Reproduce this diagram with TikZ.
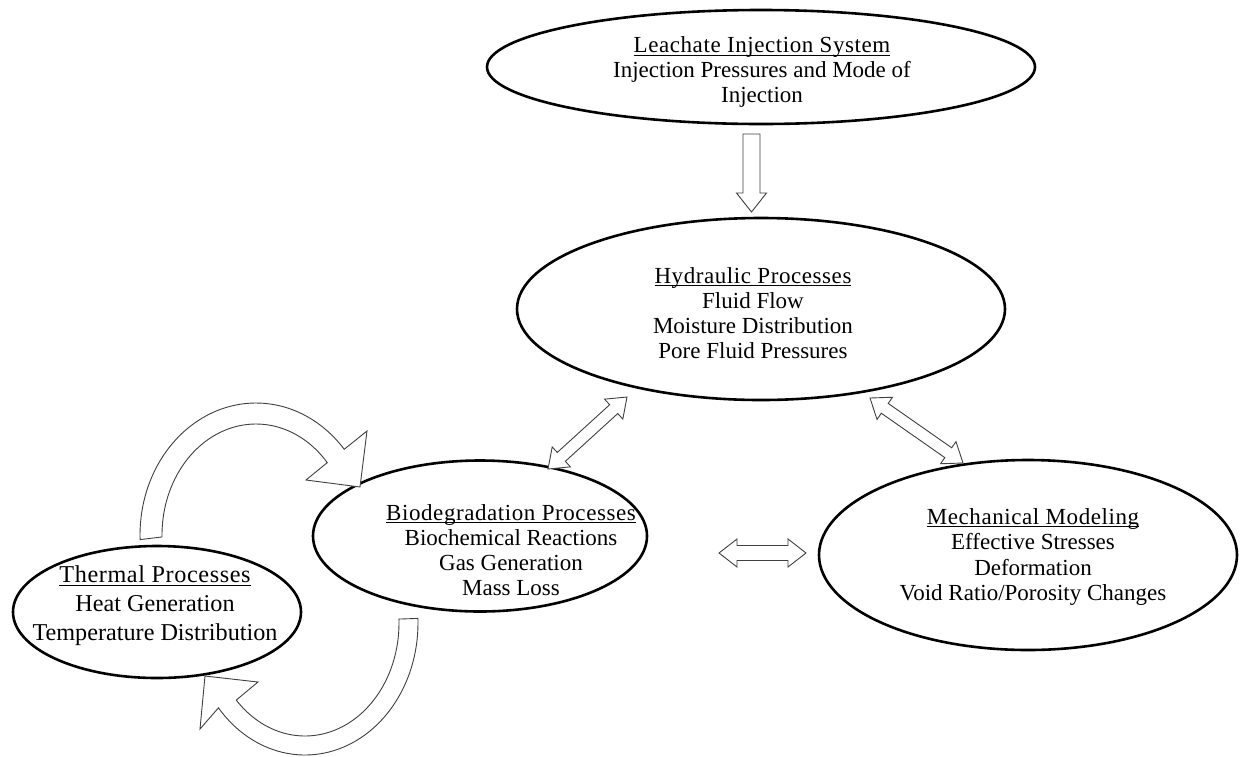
\documentclass[tikz,border=0pt]{standalone}
\usepackage{fontspec}
\setmainfont{Liberation Serif}
\newfontfamily\titlefont[LetterSpace=2.5]{Liberation Serif}
\usetikzlibrary{calc,shapes.geometric}
\newcommand\ulw[1]{\setbox0\hbox{\titlefont #1}\rlap{\rule[-3pt]{\wd0}{1pt}}\box0}
\newcommand\sglarrow[5]{%
  \coordinate (sa-P) at ($(#2)!#5!(#1)$);
  \draw[blk] ($(#1)!#3!90:(#2)$) -- ($(sa-P)!#3!-90:(#1)$) -- ($(sa-P)!#4!-90:(#1)$) -- (#2)
    -- ($(sa-P)!#4!90:(#1)$) -- ($(sa-P)!#3!90:(#1)$) -- ($(#1)!#3!-90:(#2)$) -- cycle;}
\newcommand\dblarrow[5]{%
  \coordinate (da-P) at ($(#1)!#5!(#2)$);
  \coordinate (da-Q) at ($(#2)!#5!(#1)$);
  \draw[blk] (#1) -- ($(da-P)!#4!90:(#2)$) -- ($(da-P)!#3!90:(#2)$) -- ($(da-Q)!#3!-90:(#1)$)
    -- ($(da-Q)!#4!-90:(#1)$) -- (#2) -- ($(da-Q)!#4!90:(#1)$) -- ($(da-Q)!#3!90:(#1)$)
    -- ($(da-P)!#3!-90:(#2)$) -- ($(da-P)!#4!-90:(#2)$) -- cycle;}
\begin{document}
\begin{tikzpicture}[x=1pt,y=-1pt,
  ell/.style={draw, line width=2.6pt, ellipse, inner sep=0pt},
  txt/.style={align=center, font=\fontsize{23}{25}\selectfont, inner sep=0pt},
  blk/.style={draw=black!75, line width=0.9pt, fill=white, line join=miter}]
\fill[white] (0,0) rectangle (1241,756);
\useasboundingbox (0,0) rectangle (1241,756);
% ellipses
\node[ell, minimum width=548pt, minimum height=114pt] (leach) at (761,67) {};
\node[ell, minimum width=488pt, minimum height=182pt] (hyd) at (761,309) {};
\node[ell, minimum width=334pt, minimum height=151pt] (bio) at (480,536) {};
\node[ell, minimum width=418pt, minimum height=190pt] (mech) at (1028,555) {};
\node[ell, minimum width=288pt, minimum height=132pt] (therm) at (157,612) {};
% texts
\node[txt] (leach-t) at (762,72) {\ulw{Leachate Injection System}\\Injection Pressures and Mode of\\Injection};
\node[txt] (hyd-t) at (753,313) {\ulw{Hydraulic Processes}\\Fluid Flow\\Moisture Distribution\\Pore Fluid Pressures};
\node[txt] (bio-t) at (511,550) {\ulw{Biodegradation Processes}\\Biochemical Reactions\\Gas Generation\\Mass Loss};
\node[txt, font=\fontsize{23}{25.5}\selectfont] (mech-t) at (1033,557) {\ulw{Mechanical Modeling}\\Effective Stresses\\Deformation\\Void Ratio/Porosity Changes};
\node[txt, font=\fontsize{24.2}{29}\selectfont] (therm-t) at (155,606) {\ulw{Thermal Processes}\\Heat Generation\\Temperature Distribution};
% connector end points
\coordinate (a1) at (751.5,134);
\coordinate (b1) at (751.5,212);
\coordinate (a2) at (548,469);
\coordinate (b2) at (627,397);
\coordinate (a3) at (870,398);
\coordinate (b3) at (963,463);
\coordinate (a4) at (719,553);
\coordinate (b4) at (806,553);
% straight block arrows
\sglarrow{a1}{b1}{8.5pt}{15pt}{19pt}
\dblarrow{a2}{b2}{6pt}{13.5pt}{18pt}
\dblarrow{a3}{b3}{6pt}{13.5pt}{18pt}
\dblarrow{a4}{b4}{7.5pt}{14pt}{18pt}
% curved arrows
\draw[blk] plot[domain=182:40.5, samples=60] ({256+116*cos(\x)},{535-132*sin(\x)})
  -- (367,431) -- (360,487) -- (306,480)
  -- plot[domain=40.7:181, samples=60] ({256+94*cos(\x)},{535-111*sin(\x)}) -- cycle;
\draw[blk] plot[domain=-2:140, samples=60] ({305+113*cos(\x)},{623+132*sin(\x)})
  -- (200,729) -- (205,676) -- (258,682)
  -- plot[domain=137:-2, samples=60] ({305+94*cos(\x)},{623+113*sin(\x)}) -- cycle;
\end{tikzpicture}
\end{document}
